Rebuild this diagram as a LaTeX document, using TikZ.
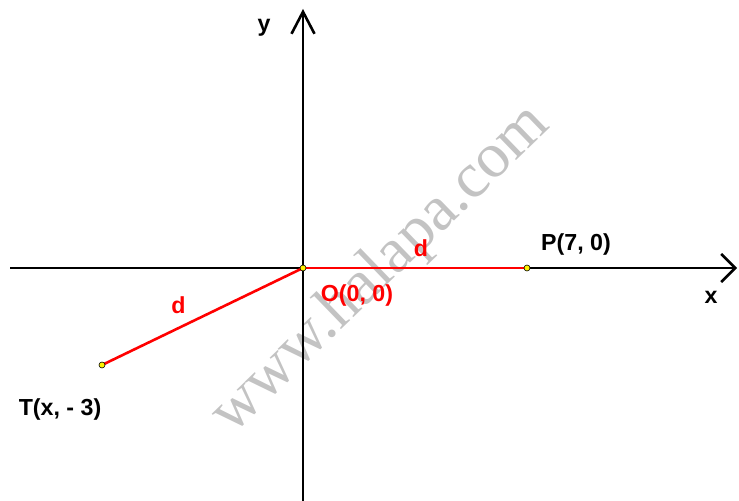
\documentclass[tikz,border=0pt]{standalone}
\usepackage{fontspec}
\setmainfont{Liberation Sans}
\newfontfamily\markfont{Liberation Serif}
\usetikzlibrary{arrows.meta, positioning}
\definecolor{markgray}{RGB}{195,195,195}
\tikzset{
    axisline/.style={line width=1.3pt},
    dist/.style={red, line width=1.3pt},
    pt/.style={circle, draw=black, fill=yellow, line width=0.3pt, minimum size=3pt, inner sep=0pt},
    lbl/.style={font=\bfseries\fontsize{11.6}{13}\selectfont, inner sep=0pt},
    redlbl/.style={lbl, text=red},
    watermark/.style={font=\markfont\fontsize{32}{36}\selectfont, text=markgray, rotate=44},
}

\begin{document}
\begin{tikzpicture}[x=0.5pt, y=-0.5pt]
    \useasboundingbox (0,0) rectangle (739,501);

    % Watermark
    \node[watermark] (wm) at (381,270) {www.halapa.com};

    % Axes
    \coordinate (xl) at (10,268);
    \coordinate (xr) at (737,268);
    \coordinate (yb) at (303,501);
    \coordinate (yt) at (303,9);
    \draw[axisline, -{Straight Barb[length=7pt, width=14pt, line width=1.3pt]}] (xl) -- (xr);
    \draw[axisline, -{Straight Barb[length=11pt, width=11.5pt, line width=1.3pt]}] (yb) -- (yt);
    \node[lbl] (ylbl) at (264,28) {y};
    \node[lbl] (xlbl) at (711,297) {x};

    % Points
    \coordinate (O) at (303,268);
    \coordinate (P) at (527,268);
    \coordinate (T) at (102,365);

    % Distances
    \draw[dist] (O) -- node[redlbl, xshift=3pt, yshift=10pt] (dOP) {d} (P);
    \draw[dist] (O) -- node[redlbl, xshift=-12pt, yshift=5.8pt] (dOT) {d} (T);

    \node[pt] (ptO) at (O) {};
    \node[pt] (ptP) at (P) {};
    \node[pt] (ptT) at (T) {};

    % Point labels
    \node[redlbl] (Olbl) at (357,296) {O(0, 0)};
    \node[lbl] (Plbl) at (576,245) {P(7, 0)};
    \node[lbl] (Tlbl) at (60,410) {T(x, - 3)};

\end{tikzpicture}
\end{document}
